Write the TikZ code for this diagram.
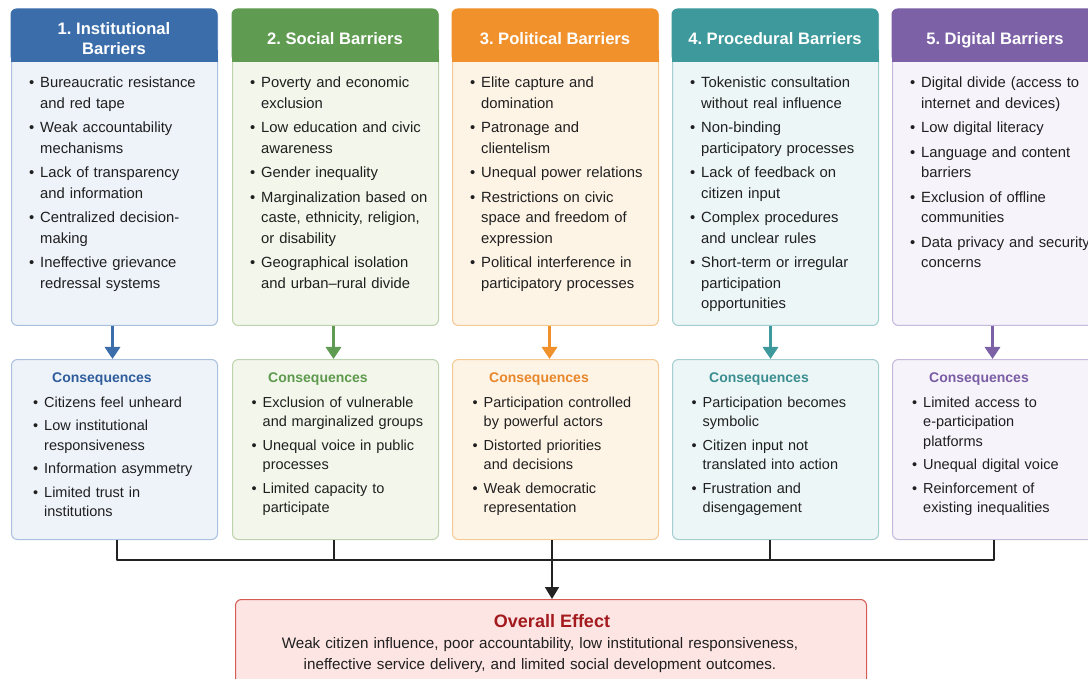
\documentclass[tikz,border=0pt]{standalone}
\usepackage{fontspec}
\setmainfont{Liberation Sans}
\usetikzlibrary{arrows.meta}
\frenchspacing
\definecolor{bluehd}{HTML}{3B6DAB}\definecolor{bluebg}{HTML}{EEF3FA}\definecolor{bluebd}{HTML}{A9C0DE}\definecolor{bluect}{HTML}{2F5D9B}
\definecolor{greenhd}{HTML}{5F9B50}\definecolor{greenbg}{HTML}{F3F6EA}\definecolor{greenbd}{HTML}{BCD3AE}\definecolor{greenct}{HTML}{5E9A4E}
\definecolor{orangehd}{HTML}{F0912C}\definecolor{orangebg}{HTML}{FEF4E6}\definecolor{orangebd}{HTML}{F5C993}\definecolor{orangect}{HTML}{E8862A}
\definecolor{tealhd}{HTML}{3D999B}\definecolor{tealbg}{HTML}{EDF6F7}\definecolor{tealbd}{HTML}{A3CDCF}\definecolor{tealct}{HTML}{3A8E90}
\definecolor{purplehd}{HTML}{7C61A6}\definecolor{purplebg}{HTML}{F6F3FA}\definecolor{purplebd}{HTML}{C6B9DD}\definecolor{purplect}{HTML}{7A5DA5}
\definecolor{effbg}{HTML}{FCE5E3}\definecolor{effbd}{HTML}{D55B55}\definecolor{efftitle}{HTML}{A31B1E}
\definecolor{textc}{HTML}{1F1F1F}\definecolor{linkc}{HTML}{222222}
\newcommand\fitm[1]{\noindent\hangindent=11pt\hangafter=1\makebox[11pt][l]{\textbullet}#1\par}
\newcommand\itm[1]{\vspace{4pt}\fitm{#1}}
\newcommand\barrier[5]{%
  \node[bbody, fill=#3bg, draw=#3bd] (b#1) at (#2,9) {};
  \fill[#3hd, rounded corners=6pt] (#2-0.5,8.5) rectangle (#2+206.5,62);
  \fill[#3hd] (#2-0.5,50) rectangle (#2+206.5,62);
  \node[btext] (t#1) at (#2+18,88) {#5};
}
\newcommand\conseq[6]{%
  \node[cbox, fill=#3bg, draw=#3bd] (c#1) at (#2,359) {};
  \node[ctitle, text=#3ct] (ct#1) at (#2+#5,382.5) {Consequences};
  \node[ctext] (cx#1) at (#2+#6,407.5) {#4};
}
\begin{document}
\begin{tikzpicture}[x=1pt,y=-1pt,
  bbody/.style={line width=1pt, rounded corners=6pt, minimum width=206pt, minimum height=316pt, anchor=north west, inner sep=0pt},
  cbox/.style={line width=1pt, rounded corners=6pt, minimum width=206pt, minimum height=180pt, anchor=north west, inner sep=0pt},
  htext/.style={anchor=base, inner sep=0pt, text=white, font=\bfseries\fontsize{16.6pt}{20pt}\selectfont},
  btext/.style={anchor=base west, inner sep=0pt, text width=200pt, align=left, text=textc, font=\fontsize{14.8pt}{20.5pt}\selectfont},
  ctitle/.style={anchor=base west, inner sep=0pt, font=\bfseries\fontsize{14pt}{16pt}\selectfont},
  ctext/.style={anchor=base west, inner sep=0pt, text width=200pt, align=left, text=textc, font=\fontsize{14.5pt}{19.4pt}\selectfont},
  carrow/.style={line width=3.2pt, -{Triangle[width=15pt,length=12pt]}},
  link/.style={line width=1.8pt, draw=linkc},
  larrow/.style={line width=1.8pt, draw=linkc, -{Triangle[width=14pt,length=12pt]}}
]
\useasboundingbox (0,0) rectangle (1088,679);
\clip (0,0) rectangle (1088,679);
\fill[white] (0,0) rectangle (1088,679);

% ---------- barrier columns
\barrier{1}{11}{blue}{}{\fitm{Bureaucratic resistance\newline and red tape}\itm{Weak accountability\newline mechanisms}\itm{Lack of transparency\newline and information}\itm{Centralized decision-\newline making}\itm{Ineffective grievance\newline redressal systems}}
\node[htext] (h1a) at (114,35) {1. Institutional};
\node[htext] (h1b) at (114,55) {Barriers};

\barrier{2}{232}{green}{}{\fitm{Poverty and economic\newline exclusion}\itm{Low education and civic\newline awareness}\itm{Gender inequality}\itm{Marginalization based on\newline caste, ethnicity, religion,\newline or disability}\itm{Geographical isolation\newline and urban–rural divide}}
\node[htext] (h2) at (335,45) {2. Social Barriers};

\barrier{3}{452}{orange}{}{\fitm{Elite capture and\newline domination}\itm{Patronage and\newline clientelism}\itm{Unequal power relations}\itm{Restrictions on civic\newline space and freedom of\newline expression}\itm{Political interference in\newline participatory processes}}
\node[htext] (h3) at (555,45) {3. Political Barriers};

\barrier{4}{672}{teal}{}{\fitm{Tokenistic consultation\newline without real influence}\itm{Non-binding\newline participatory processes}\itm{Lack of feedback on\newline citizen input}\itm{Complex procedures\newline and unclear rules}\itm{Short-term or irregular\newline participation\newline opportunities}}
\node[htext] (h4) at (775,45) {4. Procedural Barriers};

\barrier{5}{892}{purple}{}{\fitm{Digital divide (access to\newline internet and devices)}\itm{Low digital literacy}\itm{Language and content\newline barriers}\itm{Exclusion of offline\newline communities}\itm{Data privacy and security\newline concerns}}
\node[htext] (h5) at (995,45) {5. Digital Barriers};

% ---------- consequences
\conseq{1}{11}{blue}{\fitm{Citizens feel unheard}\itm{Low institutional\newline responsiveness}\itm{Information asymmetry}\itm{Limited trust in\newline institutions}}{41}{22}
\conseq{2}{232}{green}{\fitm{Exclusion of vulnerable\newline and marginalized groups}\itm{Unequal voice in public\newline processes}\itm{Limited capacity to\newline participate}}{36}{19.5}
\conseq{3}{452}{orange}{\fitm{Participation controlled\newline by powerful actors}\itm{Distorted priorities\newline and decisions}\itm{Weak democratic\newline representation}}{37}{20.5}
\conseq{4}{672}{teal}{\fitm{Participation becomes\newline symbolic}\itm{Citizen input not\newline translated into action}\itm{Frustration and\newline disengagement}}{37}{19.5}
\conseq{5}{892}{purple}{\fitm{Limited access to\newline e-participation\newline platforms}\itm{Unequal digital voice}\itm{Reinforcement of\newline existing inequalities}}{37}{20}

% ---------- arrows barrier -> consequences
\draw[carrow, draw=bluehd, fill=bluehd] ([xshift=-2pt]b1.south) -- ([xshift=-2pt]c1.north);
\draw[carrow, draw=greenhd, fill=greenhd] ([xshift=-2pt]b2.south) -- ([xshift=-2pt]c2.north);
\draw[carrow, draw=orangehd, fill=orangehd] ([xshift=-6pt]b3.south) -- ([xshift=-6pt]c3.north);
\draw[carrow, draw=tealhd, fill=tealhd] ([xshift=-5pt]b4.south) -- ([xshift=-5pt]c4.north);
\draw[carrow, draw=purplehd, fill=purplehd] ([xshift=-3pt]b5.south) -- ([xshift=-3pt]c5.north);

% ---------- overall effect
\node[line width=1pt, rounded corners=6pt, minimum width=631pt, minimum height=100pt, anchor=north west, inner sep=0pt, fill=effbg, draw=effbd] (o) at (235,599) {};
\node[anchor=base, inner sep=0pt, text=efftitle, font=\bfseries\fontsize{18pt}{20pt}\selectfont] (ot) at (552,627) {Overall Effect};
\node[anchor=base, inner sep=0pt, text width=620pt, align=center, text=textc, font=\fontsize{15.2pt}{21pt}\selectfont] (ox) at (540,648) {Weak citizen influence, poor accountability, low institutional responsiveness,\\ ineffective service delivery, and limited social development outcomes.};

% ---------- joining lines
\coordinate (l1) at (117,560);
\coordinate (l2) at (334,560);
\coordinate (l3) at (552,560);
\coordinate (l4) at (770,560);
\coordinate (l5) at (994,560);
\draw[link] (c1.south -| l1) -- (l1);
\draw[link] (c2.south -| l2) -- (l2);
\draw[link] (c3.south -| l3) -- (l3);
\draw[link] (c4.south -| l4) -- (l4);
\draw[link] (c5.south -| l5) -- (l5);
\draw[link, line cap=round] (l1) -- (l5);
\draw[larrow] (l3) -- (l3 |- o.north);
\end{tikzpicture}
\end{document}
